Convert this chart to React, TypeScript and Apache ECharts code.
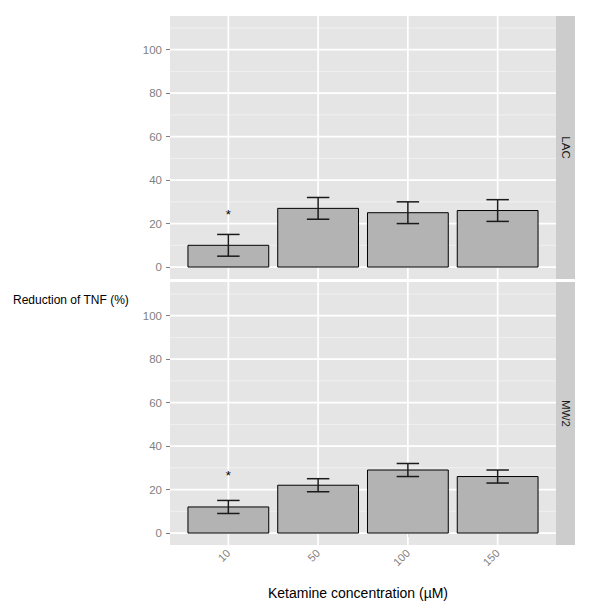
import React, { useEffect, useRef } from 'react';
import * as echarts from 'echarts';

// ---- data ----
const categories = ['10', '50', '100', '150'];
const panels = ['LAC', 'MW2'];
const lacMeans = [10, 27, 25, 26];
const lacLower = [5, 22, 20, 21];
const lacUpper = [15, 32, 30, 31];
const mw2Means = [12, 22, 29, 26];
const mw2Lower = [9, 19, 26, 23];
const mw2Upper = [15, 25, 32, 29];
const lacStars = [{ category: '10', y: 24 }];
const mw2Stars = [{ category: '10', y: 26.5 }];
const yMajorTicks = [0, 20, 40, 60, 80, 100];
const yMinorTicks = [10, 30, 50, 70, 90, 110];
const yTitle = 'Reduction of TNF (%)';
const xTitle = 'Ketamine concentration (\u00b5M)';

const Y_MIN = -5.5;
const Y_MAX = 115.5;
const X_MIN = 0.35;
const X_MAX = 4.65;

const FONT = '"Liberation Sans", Arial, Helvetica, sans-serif';

const GRID_LEFT = 170;
const GRID_WIDTH = 386;
const GRID_TOPS = [16, 282];
const GRID_HEIGHT = 263;

export default function App() {
  const ref = useRef<HTMLDivElement>(null);

  useEffect(() => {
    document.body.style.margin = '0';
    if (!ref.current) return;
    const chart = echarts.init(ref.current, undefined, { renderer: 'svg' });

    const catX = categories.map((_, i) => i + 1);
    const panelData = [
      { means: lacMeans, lower: lacLower, upper: lacUpper, stars: lacStars },
      { means: mw2Means, lower: mw2Lower, upper: mw2Upper, stars: mw2Stars },
    ];

    const grids = GRID_TOPS.map((top) => ({
      left: GRID_LEFT,
      width: GRID_WIDTH,
      top,
      height: GRID_HEIGHT,
      show: true,
      backgroundColor: '#E5E5E5',
      borderWidth: 0,
      containLabel: false,
    }));

    const xAxes = GRID_TOPS.map((_, gi) => ({
      type: 'value',
      gridIndex: gi,
      min: X_MIN,
      max: X_MAX,
      show: gi === 1,
      axisLine: { show: false },
      splitLine: { show: false },
      axisTick: {
        show: gi === 1,
        customValues: catX,
        length: 4,
        lineStyle: { color: '#7F7F7F', width: 1 },
      },
      axisLabel: {
        show: gi === 1,
        customValues: catX,
        rotate: 45,
        margin: 6,
        color: '#7F7F7F',
        fontSize: 11,
        fontFamily: FONT,
        formatter: (v: number) => categories[Math.round(v) - 1] ?? '',
      },
    }));

    const yAxes = GRID_TOPS.map((_, gi) => ({
      type: 'value',
      gridIndex: gi,
      min: Y_MIN,
      max: Y_MAX,
      axisLine: { show: false },
      splitLine: { show: false },
      axisTick: {
        show: true,
        customValues: yMajorTicks,
        length: 4,
        lineStyle: { color: '#7F7F7F', width: 1 },
      },
      axisLabel: {
        customValues: yMajorTicks,
        margin: 8,
        color: '#7F7F7F',
        fontSize: 11.5,
        fontFamily: FONT,
      },
    }));

    const series: any[] = [];
    panelData.forEach((pd, gi) => {
      const gridLines: number[][] = [];
      yMajorTicks.forEach((v) => gridLines.push([1, v, 0]));
      yMinorTicks.forEach((v) => gridLines.push([1, v, 1]));
      catX.forEach((c) => gridLines.push([c, 0, 2]));

      series.push({
        type: 'custom',
        xAxisIndex: gi,
        yAxisIndex: gi,
        silent: true,
        z: 1,
        encode: { x: 0, y: 1 },
        data: gridLines,
        renderItem: (params: any, api: any) => {
          const cs = params.coordSys;
          const kind = api.value(2);
          if (kind === 2) {
            const px = api.coord([api.value(0), 0])[0];
            return {
              type: 'line',
              shape: { x1: px, y1: cs.y, x2: px, y2: cs.y + cs.height },
              style: { stroke: '#FFFFFF', lineWidth: 1.7 },
            };
          }
          const py = api.coord([1, api.value(1)])[1];
          return {
            type: 'line',
            shape: { x1: cs.x, y1: py, x2: cs.x + cs.width, y2: py },
            style: kind === 0 ? { stroke: '#FFFFFF', lineWidth: 1.7 } : { stroke: '#F2F2F2', lineWidth: 0.9 },
          };
        },
      });

      series.push({
        type: 'custom',
        xAxisIndex: gi,
        yAxisIndex: gi,
        silent: true,
        z: 3,
        encode: { x: 0, y: 1 },
        data: categories.map((_, i) => [i + 1, pd.means[i], pd.lower[i], pd.upper[i]]),
        renderItem: (params: any, api: any) => {
          const x = api.value(0);
          const m = api.value(1);
          const lo = api.value(2);
          const hi = api.value(3);
          const tl = api.coord([x - 0.45, m]);
          const br = api.coord([x + 0.45, 0]);
          const eTop = api.coord([x, hi]);
          const eBot = api.coord([x, lo]);
          const cl = api.coord([x - 0.125, hi])[0];
          const cr = api.coord([x + 0.125, hi])[0];
          const eStyle = { stroke: '#1A1A1A', lineWidth: 1.5 };
          return {
            type: 'group',
            children: [
              {
                type: 'rect',
                shape: { x: tl[0], y: tl[1], width: br[0] - tl[0], height: br[1] - tl[1] },
                style: { fill: '#B3B3B3', stroke: '#000000', lineWidth: 1 },
              },
              { type: 'line', shape: { x1: eTop[0], y1: eTop[1], x2: eBot[0], y2: eBot[1] }, style: eStyle },
              { type: 'line', shape: { x1: cl, y1: eTop[1], x2: cr, y2: eTop[1] }, style: eStyle },
              { type: 'line', shape: { x1: cl, y1: eBot[1], x2: cr, y2: eBot[1] }, style: eStyle },
            ],
          };
        },
      });

      series.push({
        type: 'custom',
        xAxisIndex: gi,
        yAxisIndex: gi,
        silent: true,
        z: 4,
        encode: { x: 0, y: 1 },
        data: pd.stars.map((s) => [categories.indexOf(s.category) + 1, s.y]),
        renderItem: (params: any, api: any) => {
          const p = api.coord([api.value(0), api.value(1)]);
          return {
            type: 'text',
            x: p[0],
            y: p[1],
            style: {
              text: '*',
              fontSize: 13,
              fontFamily: FONT,
              fill: '#000000',
              align: 'center',
              verticalAlign: 'middle',
            },
          };
        },
      });
    });

    const graphics: any[] = [];
    GRID_TOPS.forEach((top, gi) => {
      graphics.push({
        type: 'rect',
        shape: { x: GRID_LEFT + GRID_WIDTH, y: top, width: 19, height: GRID_HEIGHT },
        style: { fill: '#CCCCCC' },
        silent: true,
      });
      graphics.push({
        type: 'text',
        x: GRID_LEFT + GRID_WIDTH + 9.5,
        y: top + GRID_HEIGHT / 2,
        rotation: -Math.PI / 2,
        style: {
          text: panels[gi],
          fontSize: 11.5,
          fontFamily: FONT,
          fill: '#1A1A1A',
          align: 'center',
          verticalAlign: 'middle',
        },
        silent: true,
      });
    });
    graphics.push({
      type: 'text',
      x: 13,
      y: 300,
      style: {
        text: yTitle,
        fontSize: 12,
        fontFamily: FONT,
        fill: '#000000',
        align: 'left',
        verticalAlign: 'middle',
      },
    });
    graphics.push({
      type: 'text',
      x: 358,
      y: 593,
      style: {
        text: xTitle,
        fontSize: 14,
        fontFamily: FONT,
        fill: '#000000',
        align: 'center',
        verticalAlign: 'middle',
      },
    });

    chart.setOption({
      animation: false,
      backgroundColor: '#FFFFFF',
      grid: grids,
      xAxis: xAxes,
      yAxis: yAxes,
      series,
      graphic: graphics,
    });

    return () => chart.dispose();
  }, []);

  return <div ref={ref} style={{ width: 600, height: 610 }} />;
}
